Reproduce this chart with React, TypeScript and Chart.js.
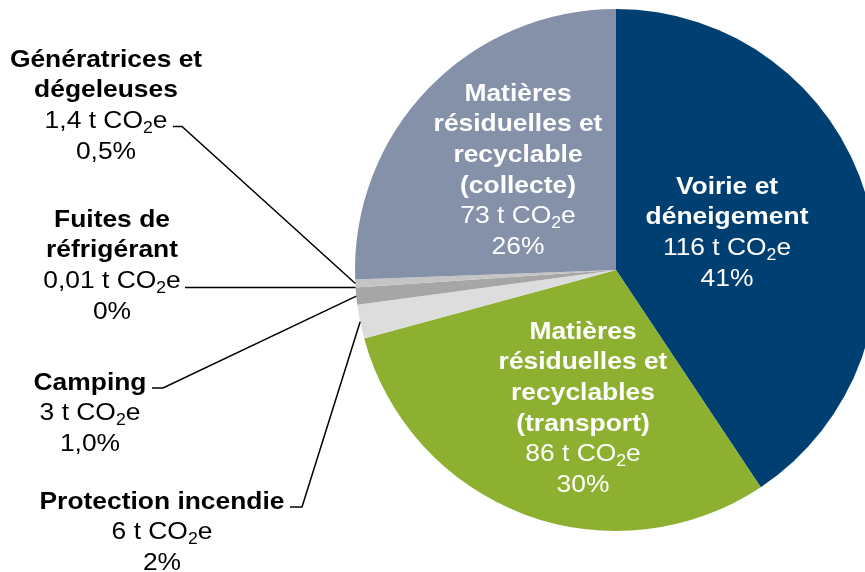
import React, { useEffect, useRef } from "react";
import { Chart, registerables } from "chart.js";

Chart.register(...registerables);

const categories = [
  "Voirie et déneigement",
  "Matières résiduelles et recyclables (transport)",
  "Protection incendie",
  "Camping",
  "Fuites de réfrigérant",
  "Génératrices et dégeleuses",
  "Matières résiduelles et recyclable (collecte)",
];
const emissions = [116, 86, 6, 3, 0.01, 1.4, 73];
const emissionLabels = ["116", "86", "6", "3", "0,01", "1,4", "73"];
const percentLabels = ["41%", "30%", "2%", "1,0%", "0%", "0,5%", "26%"];
const nameLines = [
  ["Voirie et", "déneigement"],
  ["Matières", "résiduelles et", "recyclables", "(transport)"],
  ["Protection incendie"],
  ["Camping"],
  ["Fuites de", "réfrigérant"],
  ["Génératrices et", "dégeleuses"],
  ["Matières", "résiduelles et", "recyclable", "(collecte)"],
];
const colors = ["#003F72", "#8EB031", "#DDDDDD", "#A6A6A6", "#BFBFBF", "#C4C4C4", "#8591A9"];

// label layout (position / style only)
const FONT = "'Liberation Sans', Arial, sans-serif";
const FS = 24;
const SX = 1.1;
const LH = 30.7;
const layout = [
  { x: 727, y: 185, color: "#FFFFFF", leader: null },
  { x: 583, y: 330, color: "#FFFFFF", leader: null },
  { x: 162, y: 500, color: "#000000", leader: { line: 0, x0: 290, x1: 302 } },
  { x: 90, y: 381, color: "#000000", leader: { line: 0, x0: 152, x1: 163 } },
  { x: 112, y: 218, color: "#000000", leader: { line: 2, x0: 185, x1: 185 } },
  { x: 106, y: 58, color: "#000000", leader: { line: 2, x0: 173, x1: 182 } },
  { x: 518, y: 92, color: "#FFFFFF", leader: null },
];

type Seg = { t: string; bold?: boolean; sub?: boolean };

function segFont(s: Seg) {
  const size = s.sub ? Math.round(FS * 0.66) : FS;
  return `${s.bold ? "bold " : ""}${size}px ${FONT}`;
}

function drawSegs(ctx: CanvasRenderingContext2D, cx: number, cy: number, segs: Seg[], color: string) {
  let w = 0;
  for (const s of segs) {
    ctx.font = segFont(s);
    w += ctx.measureText(s.t).width;
  }
  ctx.save();
  ctx.translate(cx, cy);
  ctx.scale(SX, 1);
  ctx.fillStyle = color;
  ctx.textAlign = "left";
  ctx.textBaseline = "alphabetic";
  let x = -w / 2;
  const base = FS * 0.36;
  for (const s of segs) {
    ctx.font = segFont(s);
    ctx.fillText(s.t, x, s.sub ? base + FS * 0.2 : base);
    x += ctx.measureText(s.t).width;
  }
  ctx.restore();
  return (w * SX) / 2;
}

const labelPlugin = {
  id: "sliceLabels",
  afterDraw(chart: any) {
    const ctx: CanvasRenderingContext2D = chart.ctx;
    const meta = chart.getDatasetMeta(0);
    meta.data.forEach((arc: any, i: number) => {
      const L = layout[i];
      const lines: Seg[][] = [];
      nameLines[i].forEach((t) => lines.push([{ t, bold: true }]));
      lines.push([{ t: `${emissionLabels[i]} t CO` }, { t: "2", sub: true }, { t: "e" }]);
      lines.push([{ t: percentLabels[i] }]);
      lines.forEach((segs, k) => {
        drawSegs(ctx, L.x, L.y + k * LH, segs, L.color);
      });
      if (L.leader) {
        const p = arc.getProps(["x", "y", "startAngle", "endAngle", "outerRadius"], true);
        const mid = (p.startAngle + p.endAngle) / 2;
        const ex = p.x + Math.cos(mid) * p.outerRadius;
        const ey = p.y + Math.sin(mid) * p.outerRadius;
        const flat = L.leader.x0 === L.leader.x1;
        const ly = flat ? ey : L.y + L.leader.line * LH + 7;
        ctx.save();
        ctx.strokeStyle = "#000000";
        ctx.lineWidth = 1.5;
        ctx.beginPath();
        ctx.moveTo(L.leader.x0, ly);
        ctx.lineTo(L.leader.x1, ly);
        ctx.lineTo(ex, ey);
        ctx.stroke();
        ctx.restore();
      }
    });
  },
};

export default function App() {
  const ref = useRef<HTMLCanvasElement | null>(null);
  useEffect(() => {
    if (!ref.current) return;
    const chart = new Chart(ref.current, {
      type: "pie",
      data: {
        labels: categories,
        datasets: [
          {
            data: emissions,
            backgroundColor: colors,
            borderWidth: 0,
          },
        ],
      },
      options: {
        responsive: false,
        animation: false,
        devicePixelRatio: 1,
        layout: { padding: { left: 355, top: 9, right: 23, bottom: 41 } },
        plugins: { legend: { display: false }, tooltip: { enabled: false } },
      },
      plugins: [labelPlugin],
    });
    return () => chart.destroy();
  }, []);
  return (
    <div style={{ position: "absolute", left: 0, top: 0, width: 865, height: 572, overflow: "hidden", background: "#fff" }}>
      <canvas ref={ref} width={900} height={572} style={{ width: 900, height: 572, display: "block" }} />
    </div>
  );
}
